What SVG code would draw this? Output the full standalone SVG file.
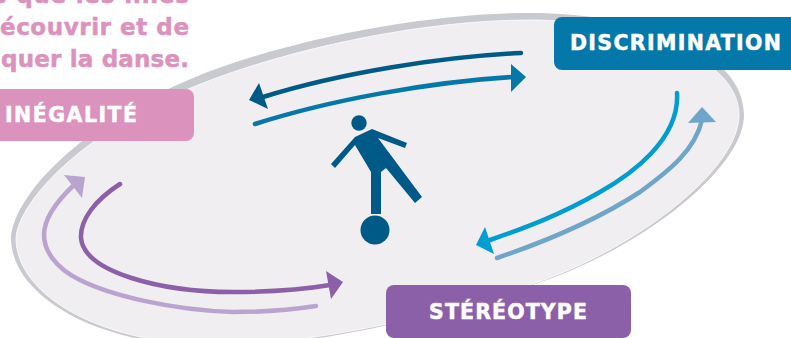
<svg xmlns="http://www.w3.org/2000/svg" width="791" height="338" viewBox="0 0 791 338">
<style>
.t{font-family:"DejaVu Sans","Liberation Sans",sans-serif;font-weight:700}
.pink{fill:#DB93BE;stroke:#DB93BE;stroke-width:.5px;font-size:23px}
.lab{fill:#fff;stroke:#fff;stroke-width:.5px;font-size:20.5px}
.c{fill:none;stroke-width:4.5;stroke-linecap:round}
</style>
<g id="backdrop">
<path fill="#C9CAD0" d="M11,238 C14,195 80,125 193,78 C280,42 420,13 530,13 C640,13 744,50 744,115 C744,170 638,250 538,283 C450,315 310,347 220,347 C95,347 11,295 11,238Z"/>
<path fill="#F0EEF0" stroke="#fff" stroke-width=".8" d="M16,238 C19,200 85,130 198,85 C285,50 420,20 530,20 C630,20 739,55 739,115 C739,170 636,248 538,282 C450,314 310,345 220,345 C100,345 16,295 16,238Z"/>
</g>
<g id="intro-text" class="t pink">
<text x="-7" y="3" textLength="196" lengthAdjust="spacing">s que les filles</text>
<text x="0" y="35" textLength="189" lengthAdjust="spacing">écouvrir et de</text>
<text x="1" y="67" textLength="188" lengthAdjust="spacing">quer la danse.</text>
</g>
<g id="connectors">
<path class="c" stroke="#005A87" d="M521,53 C440,57 340,73 263,97"/>
<polygon fill="#005A87" points="249,100 259,83 268,109"/>
<path class="c" stroke="#0478A9" d="M255,124 C330,100 430,82 512,77"/>
<polygon fill="#0478A9" points="526,77 511,64 511,92"/>
<path class="c" stroke="#009DD2" d="M677,93 C680,140 630,175 600,192 C560,215 525,228 490,240"/>
<polygon fill="#009DD2" points="476,245 485,227 494,254"/>
<path class="c" stroke="#6FA5C8" d="M497,258 C550,240 600,218 640,192 C670,170 695,150 702,120"/>
<polygon fill="#6FA5C8" points="702,107 688,123 716,122"/>
<path class="c" stroke="#8C60A8" d="M120,184 C95,200 80,220 81,238 C84,272 160,292 233,292 C270,292 300,290 330,285"/>
<polygon fill="#8C60A8" points="343,282 326,271 331,299"/>
<path class="c" stroke="#BBA3D0" d="M316,306 C290,310 260,312 233,312 C170,310 110,295 80,280 C55,268 44,250 44,235 C44,218 58,200 74,185"/>
<polygon fill="#BBA3D0" points="64,175 85,177 82,198"/>
</g>
<g id="figure" fill="#005A87">
<circle cx="359" cy="123" r="7.7"/>
<polygon points="372,129 407,143 405,148 378,138 422,197 415,203 386,168 381,172 381,214 371,214 371,172 355,145 335,168 331,164 355,137"/>
<circle cx="375" cy="230" r="14.5"/>
</g>
<g id="inegalite">
<rect x="-20" y="89" width="214" height="52" rx="8" fill="#DB93BE"/>
<text class="t lab" x="5" y="122" textLength="132" lengthAdjust="spacing">INÉGALITÉ</text>
</g>
<g id="discrimination">
<rect x="554" y="17" width="260" height="53" rx="8" fill="#0478A9"/>
<text class="t lab" x="570" y="50" textLength="211" lengthAdjust="spacing">DISCRIMINATION</text>
</g>
<g id="stereotype">
<rect x="386" y="285" width="245" height="53" rx="8" fill="#8C60A8"/>
<text class="t lab" x="429" y="319" textLength="158" lengthAdjust="spacing">STÉRÉOTYPE</text>
</g>
</svg>
